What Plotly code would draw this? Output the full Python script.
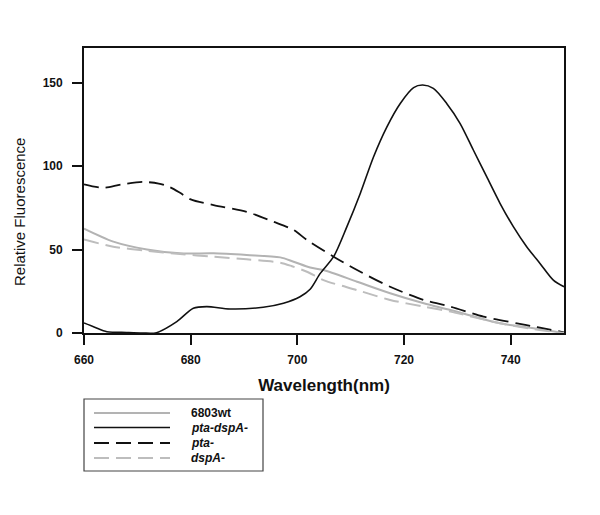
import plotly.graph_objects as go

# ---- data ----
wl_double = [660, 662, 664.3, 668, 671, 673.6, 677.4, 680.5, 683, 687.4, 693.6, 697.4, 700.5,
             702.4, 704.3, 706.8, 709.3, 711.8, 714.3, 716.8, 719.3, 721.8, 723.5, 725.5,
             728, 730.5, 733, 735.5, 738, 740.5, 743, 745.5, 748, 750]
val_double = [6, 3.5, 0.8, 0.3, 0, 0.2, 6.8, 14.8, 15.8, 14.4, 15.4, 17.8, 21.7,
              26.2, 35.7, 45.7, 63.7, 83.6, 105.6, 123.5, 137.5, 147, 148.5, 146.5,
              137.5, 125.6, 109.6, 93.6, 77.7, 63.7, 51.7, 41.7, 31.7, 27.7]

wl_pta = [660, 663.5, 667, 671, 674, 676, 678, 680, 684.3, 690.5, 695.5, 699.3, 701.8,
          706.8, 711.2, 717.4, 723.7, 728.7, 734.9, 741.2, 745, 750]
val_pta = [89, 87, 89, 90.5, 89.5, 87.5, 84, 80, 76.6, 72.6, 66.7, 61.7, 55.7,
           45.7, 37.7, 27.7, 19.8, 15.8, 9.8, 5.8, 3.5, 0.4]

wl_wt = [660, 665.5, 671.8, 678, 684.3, 690.5, 696.8, 699.3, 702.4, 704.9, 711.2,
         717.4, 723.7, 728.7, 733, 738, 744, 750]
val_wt = [62.5, 54.7, 50, 47.7, 47.7, 46.7, 45.3, 42.7, 39.2, 37.7, 30.7,
          23.8, 17.8, 13.8, 10, 5.8, 3, 0]

wl_dsp = [660, 665.5, 671.8, 678, 684.3, 690.5, 696.8, 699, 701.8, 704.9, 711.2,
          717.4, 723.7, 728.7, 738, 744, 750]
val_dsp = [56, 51.7, 49.3, 47.3, 45.7, 44.1, 42.1, 40, 36.7, 31.7, 25.7,
           19.8, 15.8, 12.8, 5.8, 2.5, 0]

names = ["6803wt", "pta-dspA-", "pta-", "dspA-"]
legend_labels = ["<b>6803wt</b>", "<b><i>pta-dspA-</i></b>", "<b><i>pta-</i></b>", "<b><i>dspA-</i></b>"]
colors = ["#b3b3b3", "#111111", "#111111", "#bdbdbd"]
dashes = ["solid", "solid", "15px,7px", "15px,7px"]
widths = [2, 1.6, 1.8, 2]

x_ticks = [660, 680, 700, 720, 740]
y_ticks = [0, 50, 100, 150]

series = [(wl_wt, val_wt), (wl_double, val_double), (wl_pta, val_pta), (wl_dsp, val_dsp)]

fig = go.Figure()
for (xs, ys), n, c, d, w in zip(series, names, colors, dashes, widths):
    fig.add_trace(go.Scatter(x=xs, y=ys, mode="lines", name=n,
                             line=dict(color=c, dash=d, width=w, shape="spline", smoothing=0.8),
                             showlegend=False))

font_family = "Liberation Sans, Arial, sans-serif"

# the page body adds an 8px offset; margins compensate so the plot box lands at 84..564 x 48..333
fig.update_layout(
    width=600, height=515,
    margin=dict(l=76, r=44, t=40, b=190),
    paper_bgcolor="white", plot_bgcolor="white",
    font=dict(family=font_family, color="#111111"),
    xaxis=dict(range=[660, 750], tickvals=x_ticks, ticks="outside", ticklen=10,
               tickwidth=1.5, tickcolor="#111111", showline=True, linecolor="#111111",
               linewidth=1.8, mirror=True, showgrid=False, zeroline=False, automargin=False,
               tickfont=dict(size=12, family=font_family, weight="bold"),
               ticklabelstandoff=5,
               title=dict(text="<b>Wavelength(nm)</b>", font=dict(size=17), standoff=13)),
    yaxis=dict(range=[0, 170.7], tickvals=y_ticks, ticks="outside", ticklen=10,
               tickwidth=1.5, tickcolor="#111111", showline=True, linecolor="#111111",
               linewidth=1.8, mirror=True, showgrid=False, zeroline=False, automargin=False,
               tickfont=dict(size=12, family=font_family, weight="bold"),
               ticklabelstandoff=7),
)

plot_w, plot_h = 480.0, 285.0
def px_x(p):
    return (p - 84) / plot_w
def px_y(p):
    return (333 - p) / plot_h

# y-axis title (sits lower than the plot centre in the reference)
fig.add_annotation(xref="paper", yref="paper", x=px_x(19), y=px_y(212),
                   text="Relative Fluorescence", textangle=-90, showarrow=False,
                   xanchor="center", yanchor="middle",
                   font=dict(size=15, family=font_family, color="#111111"))

# ---- hand-drawn legend box ----
fig.add_shape(type="rect", xref="paper", yref="paper",
              x0=px_x(84), x1=px_x(263), y0=px_y(471), y1=px_y(399),
              line=dict(color="#444444", width=1.2), fillcolor="white")
rows = [413, 427.5, 443, 458]
for i, r in enumerate(rows):
    fig.add_shape(type="line", xref="paper", yref="paper",
                  x0=px_x(94), x1=px_x(170), y0=px_y(r), y1=px_y(r),
                  line=dict(color=colors[i], dash=dashes[i], width=widths[i]))
    fig.add_annotation(xref="paper", yref="paper", x=px_x(189), y=px_y(r),
                       text=legend_labels[i], showarrow=False, xanchor="left",
                       yanchor="middle", font=dict(size=12, family=font_family, color="#111111"))

fig.write_html("out.html")
